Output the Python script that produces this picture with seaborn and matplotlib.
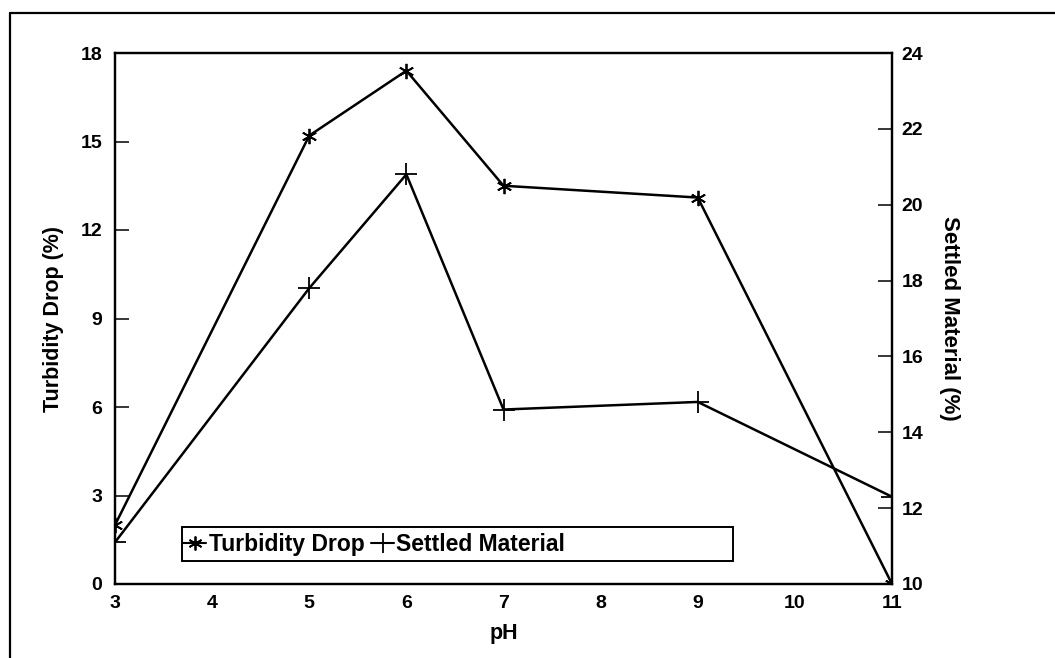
import matplotlib
matplotlib.use("Agg")
import matplotlib.pyplot as plt
import seaborn as sns
import pandas as pd
from matplotlib.lines import Line2D
from matplotlib.patches import Rectangle

ph = [3, 5, 6, 7, 9, 11]
turbidity_drop = [2.0, 15.2, 17.4, 13.5, 13.1, 0.0]
settled_material = [11.1, 17.8, 20.8, 14.6, 14.8, 12.3]
x_ticks = [3, 4, 5, 6, 7, 8, 9, 10, 11]
left_ticks = [0, 3, 6, 9, 12, 15, 18]
right_ticks = [10, 12, 14, 16, 18, 20, 22, 24]

sns.set_theme(style="white")
plt.rcParams['font.family'] = ['Liberation Sans', 'DejaVu Sans']
plt.rcParams['font.weight'] = 'bold'
plt.rcParams['text.color'] = 'black'
plt.rcParams['axes.labelcolor'] = 'black'

fig = plt.figure(figsize=(10.55, 6.58), dpi=100)
ax = fig.add_axes([115/1055, 1-584/658, 777/1055, 531/658])
ax2 = ax.twinx()

df = pd.DataFrame({"pH": ph, "Turbidity Drop": turbidity_drop, "Settled Material": settled_material})

ast = (6, 2, 0)
sns.lineplot(data=df, x="pH", y="Turbidity Drop", ax=ax, color="black", lw=1.8,
             marker=ast, markersize=11, markeredgewidth=1.3, markeredgecolor="black")
sns.lineplot(data=df, x="pH", y="Settled Material", ax=ax2, color="black", lw=1.8,
             marker="+", markersize=16, markeredgewidth=1.3, markeredgecolor="black")

ax.set_xlim(3, 11)
ax.set_ylim(0, 18)
ax2.set_ylim(10, 24)
ax.set_xticks(x_ticks)
ax.set_yticks(left_ticks)
ax2.set_yticks(right_ticks)

for a in (ax, ax2):
    for s in a.spines.values():
        s.set_color("black")
        s.set_linewidth(1.6)
    a.tick_params(direction="in", length=10, width=1.1, colors="black", labelsize=14)
    for lab in a.get_xticklabels() + a.get_yticklabels():
        lab.set_fontweight("bold")
ax.tick_params(axis="x", pad=8)
ax.tick_params(axis="y", pad=9)
ax2.tick_params(axis="y", pad=7)

ax.set_xlabel("pH", fontsize=15.5, fontweight="bold", labelpad=8)
ax.set_ylabel("Turbidity Drop (%)", fontsize=15.5, fontweight="bold", labelpad=12)
ax2.set_ylabel("Settled Material (%)", fontsize=16, fontweight="bold", rotation=270, labelpad=26)

# legend box
ax2.add_patch(Rectangle((0.086, 0.043), 0.709, 0.064, transform=ax2.transAxes,
                        fill=True, facecolor="white", edgecolor="black", lw=1.4, zorder=5))
handles = [Line2D([0], [0], color="black", lw=1.5, marker=ast, markersize=10, markeredgewidth=1.3),
           Line2D([0], [0], color="black", lw=1.5, marker="+", markersize=14, markeredgewidth=1.3)]
leg = ax2.legend(handles, ["Turbidity Drop", "Settled Material"], ncol=2,
                 loc="center left", bbox_to_anchor=(0.088, 0.075),
                 frameon=False, borderaxespad=0, handlelength=1.0,
                 handletextpad=0.1, columnspacing=0.3, borderpad=0.0,
                 prop={"weight": "bold", "size": 16.5})
leg.set_zorder(6)

# figure frame
fig.add_artist(Line2D([10/1055, 10/1055], [0, 1-13/658], color="black", lw=1.6, transform=fig.transFigure))
fig.add_artist(Line2D([10/1055, 1], [1-13/658, 1-13/658], color="black", lw=1.6, transform=fig.transFigure))

fig.savefig("out.png", dpi=100)
